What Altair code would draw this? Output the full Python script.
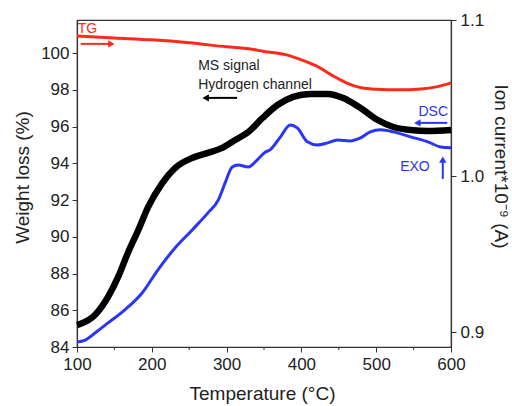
import altair as alt
import pandas as pd

# ---- data ----
T_tg = [100, 150, 200, 250, 300, 330, 350, 380, 400, 420, 440, 460, 480, 500, 530, 560, 580, 600]
tg = [100.93, 100.82, 100.72, 100.56, 100.34, 100.23, 100.09, 99.90, 99.63, 99.30, 98.81, 98.38,
      98.11, 98.03, 98.00, 98.05, 98.16, 98.38]

T_ms = [100, 104, 124, 141.5, 155, 168, 182, 195, 214, 231, 254, 275, 294, 311.5, 329, 348, 368,
        389, 412, 435, 456, 479, 502, 523, 546, 569, 600]
ms = [0.9045, 0.9051, 0.9109, 0.9225, 0.9353, 0.9507, 0.9654, 0.9801, 0.9955, 1.0051, 1.0116,
      1.0148, 1.0180, 1.0231, 1.0282, 1.0372, 1.0455, 1.0507, 1.0526, 1.0526, 1.0500, 1.0436,
      1.0359, 1.0314, 1.0295, 1.0288, 1.0295]

T_dsc = [100, 111, 124, 141.5, 164, 187, 208, 231, 254, 275, 289, 298, 307.5, 315.5, 329, 341, 352,
         358, 372, 385, 394.5, 408, 421, 435, 448, 465, 479, 492, 506, 523, 546, 569, 586, 600]
dsc = [84.27, 84.38, 84.76, 85.31, 86.02, 86.94, 88.19, 89.39, 90.37, 91.30, 92.01, 92.93, 93.80,
       93.91, 93.80, 94.19, 94.62, 94.73, 95.44, 96.09, 95.93, 95.17, 95.00, 95.11, 95.27, 95.22,
       95.38, 95.71, 95.82, 95.71, 95.44, 95.17, 94.89, 94.84]

x_ticks = [100, 200, 300, 400, 500, 600]
x_minor = [150, 250, 350, 450, 550]
left_ticks = [84, 86, 88, 90, 92, 94, 96, 98, 100]
right_ticks = [0.9, 1.0, 1.1]

# annotations (data coordinates on the left axis)
ann_text = ["TG", "MS signal", "Hydrogen channel", "DSC", "EXO"]
ann_T = [101, 262, 262, 596, 532]
ann_v = [101.32, 99.30, 98.27, 96.80, 93.80]
ann_color = ["#ff2a1a", "#222222", "#222222", "#2b35f5", "#2b35f5"]
ann_align = ["left", "left", "left", "right", "left"]

arr_T1 = [105, 275, 558, 589]
arr_T2 = [143, 314, 595, 589]
arr_v1 = [100.50, 97.56, 96.20, 93.15]
arr_v2 = [100.50, 97.56, 96.20, 94.05]
arr_hT = [146, 272, 555, 589]
arr_hv = [100.50, 97.56, 96.20, 94.20]
arr_shape = ["triangle-right", "triangle-left", "triangle-left", "triangle-up"]
arr_color = ["#ff2a1a", "#000000", "#2b35f5", "#2b35f5"]

FONT = "Liberation Sans"
RED = "#ff2a1a"
BLUE = "#2b35f5"

df_tg = pd.DataFrame({"T": T_tg, "v": tg})
df_dsc = pd.DataFrame({"T": T_dsc, "v": dsc})
df_ms = pd.DataFrame({"T": T_ms, "ms": ms})
df_minor = pd.DataFrame({"T": x_minor})
df_ann = pd.DataFrame({"T": ann_T, "v": ann_v, "txt": ann_text, "c": ann_color, "a": ann_align})
df_arr = pd.DataFrame({"T": arr_T1, "T2": arr_T2, "v": arr_v1, "v2": arr_v2, "c": arr_color})
df_head = pd.DataFrame({"T": arr_hT, "v": arr_hv, "s": arr_shape, "c": arr_color})

x_axis = alt.Axis(values=x_ticks, title="Temperature (°C)", titleFontSize=19, titleFontWeight="normal",
                  titleX=185, titleY=46, titleBaseline="middle", labelFontSize=17, tickSize=5,
                  labelPadding=4, format="d", labelFlush=False)
x_scale = alt.Scale(domain=[100, 600], nice=False, zero=False)


def X(field="T"):
    return alt.X(f"{field}:Q", scale=x_scale, axis=x_axis, title="Temperature (°C)")


y_axis = alt.Axis(values=left_ticks, title="Weight loss (%)", titleFontSize=19, titleFontWeight="normal",
                  titleX=-55, titleY=157, titleAngle=-90, titleBaseline="middle", labelFontSize=17,
                  tickSize=5, labelPadding=3, labelFlush=False)
y_scale = alt.Scale(domain=[84, 101.8], nice=False, zero=False)


def Y(field="v"):
    return alt.Y(f"{field}:Q", scale=y_scale, axis=y_axis, title="Weight loss (%)")


red = alt.Chart(df_tg).mark_line(color=RED, strokeWidth=3, interpolate="monotone").encode(x=X(), y=Y())
blue = alt.Chart(df_dsc).mark_line(color=BLUE, strokeWidth=3, interpolate="monotone").encode(x=X(), y=Y())
minor = alt.Chart(df_minor).mark_rule(color="#333333", strokeWidth=1).encode(
    x=X(), y=alt.value(327), y2=alt.value(330))

texts = []
for al in ["left", "right"]:
    texts.append(
        alt.Chart(df_ann[df_ann["a"] == al]).mark_text(
            align=al, baseline="middle", font=FONT, fontSize=14
        ).encode(x=X(), y=Y(), text="txt:N", color=alt.Color("c:N", scale=None))
    )

shafts = alt.Chart(df_arr).mark_rule(strokeWidth=2).encode(
    x=X(), x2="T2:Q", y=Y(), y2="v2:Q", color=alt.Color("c:N", scale=None))
heads = alt.Chart(df_head).mark_point(filled=True, size=55, opacity=1).encode(
    x=X(), y=Y(), shape=alt.Shape("s:N", scale=None), color=alt.Color("c:N", scale=None))

left = alt.layer(red, blue, minor, shafts, heads, *texts)

right = alt.Chart(df_ms).mark_line(color="#000000", strokeWidth=6.5, interpolate="monotone").encode(
    x=X(),
    y=alt.Y("ms:Q", scale=alt.Scale(domain=[0.8904, 1.1], nice=False, zero=False),
            axis=alt.Axis(orient="right", values=right_ticks, format=".1f", title="Ion current*10⁻⁹ (A)",
                          titleFontSize=19, titleFontWeight="normal", titleAngle=90, titleX=49, titleY=146,
                          titleBaseline="middle", labelFontSize=17, tickSize=5, labelPadding=4,
                          labelFlush=False)),
)

chart = alt.layer(left, right).resolve_scale(y="independent").properties(
    width=374, height=327,
    autosize=alt.AutoSizeParams(type="none"),
    padding={"left": 77, "top": 20, "right": 61, "bottom": 59},
).configure_view(stroke="#333333", strokeWidth=1.2).configure_axis(
    grid=False, domainColor="#333333", tickColor="#333333", labelColor="#222222",
    titleColor="#222222", labelFont=FONT, titleFont=FONT, domainWidth=1.2,
)

chart.save("out.html", embed_options={"renderer": "svg", "actions": False})
